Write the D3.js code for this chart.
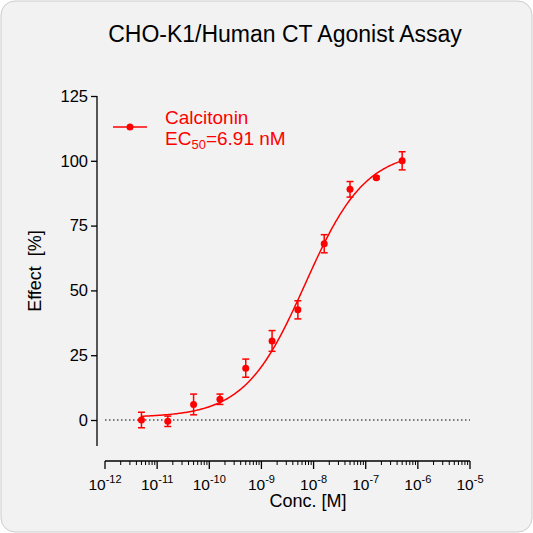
<!DOCTYPE html><html><head><script src="https://cdn.jsdelivr.net/npm/d3@7"></script>
<style>body{margin:0;background:#fff}</style></head><body><script>
const conc=[5e-12,1.6e-11,5e-11,1.6e-10,5e-10,1.6e-9,5e-9,1.6e-8,5e-8,1.6e-7,5e-7];
const effect=[0,-0.5,6,8,20,30.5,42.5,68,89,93.5,100];
const errs=[3,2,4,2,3.5,4,3.5,3.5,3,0.5,3.5];
const yTicks=[0,25,50,75,100,125];
const xExps=[-12,-11,-10,-9,-8,-7,-6,-5];
const fit={bottom:1,top:104,ec50:6.91e-9,hill:0.75};
const W=533,H=533,red="#f00",FF="Arial, Liberation Sans";
const svg=d3.select("body").append("svg").attr("width",W).attr("height",H);
svg.append("rect").attr("x",1).attr("y",1).attr("width",W-2).attr("height",H-2).attr("rx",14).attr("fill","#f2f2f2").attr("stroke","#ccc");
const x=d3.scaleLog().domain([1e-12,1e-5]).range([105,470]);
const y=d3.scaleLinear().domain([0,125]).range([420,96]);
svg.append("text").attr("x",285).attr("y",42).attr("text-anchor","middle").attr("font-family",FF).attr("font-size",23).text("CHO-K1/Human CT Agonist Assay");
const ya=svg.append("g").attr("transform","translate(97,0)").call(d3.axisLeft(y).tickValues(yTicks).tickSize(6).tickSizeOuter(0));
ya.select(".domain").attr("d","M0,96V446");
ya.selectAll("text").attr("font-size",16.5).attr("font-family",FF).attr("fill","#000");
ya.selectAll("line,path").attr("stroke","#000").attr("stroke-width",1.3);
const g=svg.append("g").attr("transform","translate(0,461)");
g.append("line").attr("x1",105).attr("x2",470).attr("stroke","#000").attr("stroke-width",1.3);
const minor=[];for(let e=-12;e<-5;e++)for(let k=2;k<10;k++)minor.push(k*Math.pow(10,e));
g.selectAll(".mn").data(minor).join("line").attr("x1",d=>x(d)).attr("x2",d=>x(d)).attr("y2",4).attr("stroke","#000");
g.selectAll(".mj").data(xExps).join("line").attr("x1",d=>x(Math.pow(10,d))).attr("x2",d=>x(Math.pow(10,d))).attr("y2",8).attr("stroke","#000").attr("stroke-width",1.3);
const lt=g.selectAll(".lb").data(xExps).join("text").attr("x",d=>x(Math.pow(10,d))).attr("y",29).attr("text-anchor","middle").attr("font-family",FF).attr("font-size",15.5);
lt.append("tspan").text("10");lt.append("tspan").attr("dy",-7).attr("font-size",11).text(d=>d);
svg.append("text").attr("x",308).attr("y",507).attr("text-anchor","middle").attr("font-family",FF).attr("font-size",18).text("Conc. [M]");
svg.append("text").attr("transform","translate(41,271) rotate(-90)").attr("text-anchor","middle").attr("font-family",FF).attr("font-size",18).attr("xml:space","preserve").text("Effect  [%]");
svg.append("line").attr("x1",105).attr("x2",470).attr("y1",y(0)).attr("y2",y(0)).attr("stroke","#000").attr("stroke-dasharray","1.5,2.5");
const f=c=>fit.bottom+(fit.top-fit.bottom)/(1+Math.pow(fit.ec50/c,fit.hill));
const xs=d3.range(0,201).map(i=>Math.pow(10,Math.log10(conc[0])+i*(Math.log10(conc[conc.length-1])-Math.log10(conc[0]))/200));
svg.append("path").attr("d",d3.line().x(d=>x(d)).y(d=>y(f(d)))(xs)).attr("fill","none").attr("stroke",red).attr("stroke-width",1.5);
const pts=conc.map((c,i)=>({c,v:effect[i],e:errs[i]}));
const eb=svg.selectAll(".eb").data(pts).join("g").attr("stroke",red).attr("stroke-width",1.5);
eb.append("line").attr("x1",d=>x(d.c)).attr("x2",d=>x(d.c)).attr("y1",d=>y(d.v-d.e)).attr("y2",d=>y(d.v+d.e));
eb.append("line").attr("x1",d=>x(d.c)-3.5).attr("x2",d=>x(d.c)+3.5).attr("y1",d=>y(d.v-d.e)).attr("y2",d=>y(d.v-d.e));
eb.append("line").attr("x1",d=>x(d.c)-3.5).attr("x2",d=>x(d.c)+3.5).attr("y1",d=>y(d.v+d.e)).attr("y2",d=>y(d.v+d.e));
svg.selectAll(".pt").data(pts).join("circle").attr("cx",d=>x(d.c)).attr("cy",d=>y(d.v)).attr("r",3.5).attr("fill",red);
svg.append("line").attr("x1",113).attr("x2",147).attr("y1",127).attr("y2",127).attr("stroke",red).attr("stroke-width",1.5);
svg.append("circle").attr("cx",130).attr("cy",127).attr("r",3.5).attr("fill",red);
const lg=svg.append("g").attr("font-family",FF).attr("font-size",19).attr("fill",red);
lg.append("text").attr("x",165).attr("y",124).text("Calcitonin");
const t2=lg.append("text").attr("x",165).attr("y",145);
t2.append("tspan").text("EC");t2.append("tspan").attr("dy",4).attr("font-size",13).text("50");t2.append("tspan").attr("dy",-4).text("=6.91 nM");
</script></body></html>
